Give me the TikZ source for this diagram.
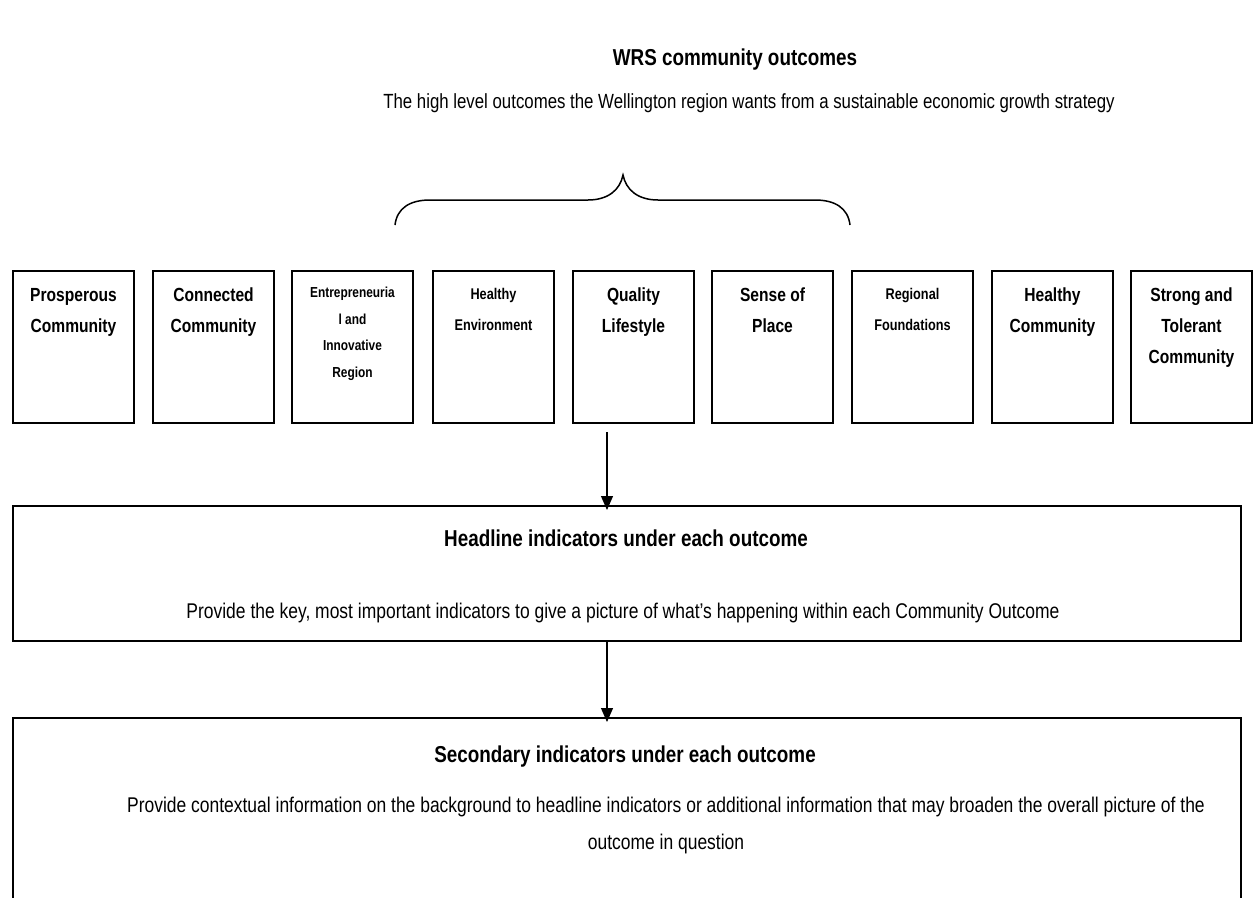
\documentclass[tikz,border=0pt]{standalone}
\usepackage{fontspec}
\setmainfont{Liberation Sans}[FakeStretch=0.82]
\usetikzlibrary{arrows.meta}
\begin{document}
\begin{tikzpicture}[x=1pt,y=-1pt,
 ob/.style={draw, line width=2pt, minimum width=121pt, minimum height=152pt, anchor=north west, inner sep=0pt},
 lbl/.style={anchor=north, align=center, font=\bfseries\fontsize{19}{31}\selectfont, inner sep=0pt},
 slbl/.style={anchor=north, align=center, font=\bfseries\fontsize{15.5}{31}\selectfont, inner sep=0pt},
 tlbl/.style={anchor=north, align=center, font=\bfseries\fontsize{14.5}{26.5}\selectfont, inner sep=0pt},
 wide/.style={draw, line width=2pt, anchor=north west, minimum width=1228pt, inner sep=0pt},
 htitle/.style={font=\bfseries\fontsize{23}{28}\selectfont, inner sep=0pt},
 body/.style={font=\fontsize{21.3}{37}\selectfont, inner sep=0pt, align=center},
 arr/.style={-{Triangle[length=14pt,width=12pt]}, line width=1.2pt, shorten >=-5pt},
]
\useasboundingbox (0,0) rectangle (1255,897);
\clip (0,0) rectangle (1255,897);

\node[htitle] (title) at (735,60) {WRS community outcomes};
\node[body, font=\fontsize{20.5}{37}\selectfont] (sub) at (749,103) {The high level outcomes the Wellington region wants from a sustainable economic growth strategy};

\draw[line width=1.5pt] (395,225) .. controls (397,208) and (410,200) .. (430,200) -- (588,200)
  .. controls (608,200) and (620,190) .. (623,175)
  .. controls (626,190) and (638,200) .. (658,200) -- (815,200)
  .. controls (835,200) and (848,208) .. (850,225);

\node[ob] (b1) at (12,270) {};
\node[ob] (b2) at (152,270) {};
\node[ob] (b3) at (291,270) {};
\node[ob] (b4) at (432,270) {};
\node[ob] (b5) at (572,270) {};
\node[ob] (b6) at (711,270) {};
\node[ob] (b7) at (851,270) {};
\node[ob] (b8) at (991,270) {};
\node[ob] (b9) at (1130,270) {};

\node[lbl] (t1) at ([yshift=-18pt]b1.north) {Prosperous\\Community};
\node[lbl] (t2) at ([yshift=-18pt]b2.north) {Connected\\Community};
\node[tlbl] (t3) at ([yshift=-17pt]b3.north) {Entrepreneuria\\l and\\Innovative\\Region};
\node[slbl] (t4) at ([yshift=-18pt]b4.north) {Healthy\\Environment};
\node[lbl] (t5) at ([yshift=-18pt]b5.north) {Quality\\Lifestyle};
\node[lbl] (t6) at ([yshift=-18pt]b6.north) {Sense of\\Place};
\node[slbl] (t7) at ([yshift=-18pt]b7.north) {Regional\\Foundations};
\node[lbl] (t8) at ([yshift=-18pt]b8.north) {Healthy\\Community};
\node[lbl] (t9) at ([yshift=-18pt]b9.north) {Strong and\\Tolerant\\Community};

\node[wide, minimum height=135pt] (head) at (12,505) {};
\node[htitle] (headt) at (626,538) {Headline indicators under each outcome};
\node[body] (headb) at (623,613) {Provide the key, most important indicators to give a picture of what's happening within each Community Outcome};

\node[wide, minimum height=220pt] (sec) at (12,717) {};
\node[htitle] (sect) at (625,757) {Secondary indicators under each outcome};
\node[body] (secb) at (666,825) {Provide contextual information on the background to headline indicators or additional information that may broaden the overall picture of the\\outcome in question};

\coordinate (a1) at (607,432);
\draw[arr] (a1) -- (a1 |- head.north);
\draw[arr] (607,0 |- head.south) -- (607,0 |- sec.north);
\end{tikzpicture}
\end{document}
